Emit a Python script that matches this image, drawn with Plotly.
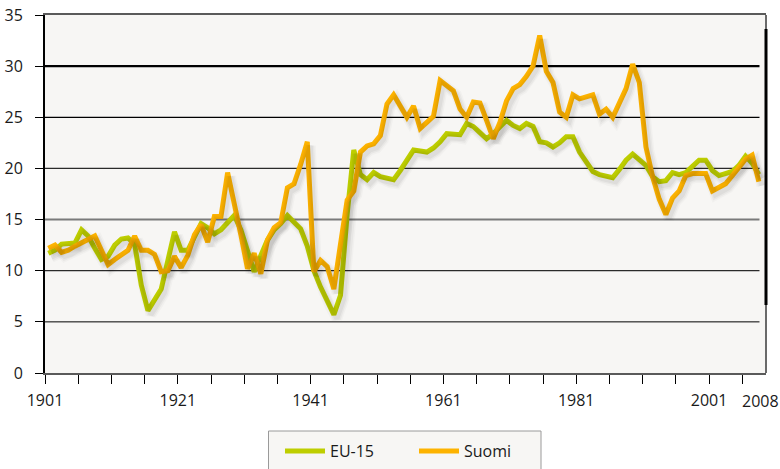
import plotly.graph_objects as go

years = list(range(1901, 2009))

eu15 = [11.7, 12.0, 12.6, 12.7, 12.7, 14.0, 13.4, 12.2, 11.1, 11.4,
        12.5, 13.1, 13.2, 12.6, 8.6, 6.1, 7.1, 8.2, 11.0, 13.8,
        12.0, 12.0, 13.3, 14.6, 14.2, 13.6, 14.0, 14.7, 15.4, 14.0,
        12.0, 9.9, 11.5, 13.0, 14.0, 14.6, 15.4, 14.8, 14.1, 12.4,
        10.0, 8.4, 6.9, 5.7, 7.6, 15.5, 21.8, 19.4, 18.9, 19.6,
        19.2, 19.0, 18.9, 19.8, 20.8, 21.8, 21.7, 21.6, 22.0, 22.6,
        23.4, 23.4, 23.3, 24.4, 24.1, 23.5, 22.9, 23.4, 24.1, 24.7,
        24.2, 23.9, 24.4, 24.1, 22.6, 22.5, 22.1, 22.5, 23.1, 23.1,
        21.6, 20.7, 19.7, 19.4, 19.2, 19.1, 19.9, 20.8, 21.4, 20.9,
        20.3, 19.2, 18.7, 18.8, 19.6, 19.4, 19.6, 20.2, 20.8, 20.8,
        19.8, 19.3, 19.5, 19.7, 20.3, 21.2, 20.5, 19.4]

suomi = [12.2, 12.5, 11.8, 12.0, 12.4, 12.7, 13.0, 13.4, 12.0, 10.6,
         11.1, 11.5, 12.0, 13.4, 12.0, 12.0, 11.6, 9.9, 10.0, 11.4,
         10.3, 11.5, 13.5, 14.5, 12.8, 15.3, 15.3, 19.6, 16.8, 13.5,
         10.2, 11.7, 9.7, 13.0, 14.2, 14.7, 18.1, 18.5, 20.4, 22.6,
         9.9, 11.0, 10.4, 8.2, 12.6, 16.9, 17.8, 21.6, 22.2, 22.4,
         23.2, 26.3, 27.2, 26.1, 25.0, 26.1, 23.9, 24.5, 25.1, 28.6,
         28.1, 27.6, 25.8, 25.0, 26.5, 26.4, 24.7, 22.9, 24.5, 26.6,
         27.8, 28.2, 29.0, 30.0, 33.0, 29.5, 28.4, 25.5, 25.0, 27.2,
         26.8, 27.0, 27.2, 25.3, 25.8, 25.0, 26.4, 27.8, 30.2, 28.4,
         22.1, 19.2, 17.0, 15.5, 17.1, 17.8, 19.3, 19.5, 19.5, 19.5,
         17.8, 18.1, 18.5, 19.3, 20.2, 20.9, 21.3, 18.7]

tick_labels = {1901: "1901", 1921: "1921", 1941: "1941", 1961: "1961",
               1981: "1981", 2001: "2001"}
last_label = "2008"
y_ticks = [0, 5, 10, 15, 20, 25, 30, 35]

GREEN = "#bece00"
ORANGE = "#fdb300"
FONT = "Open Sans"

PX_PER_YEAR = 721 / (2009.08 - 1900.5)
PX_PER_UNIT = 358 / 35
xr = [1900.5, 2009.08]
yr = [0, 35]
dx = 3 / PX_PER_YEAR
dy = 4 / PX_PER_UNIT

fig = go.Figure()

# soft drop shadows drawn on offset overlay axes
for series in (eu15, suomi):
    for w, a in ((11, 0.025), (8, 0.035), (5, 0.045)):
        fig.add_trace(go.Scatter(x=years, y=series, mode="lines",
                                 line=dict(color=f"rgba(0,0,0,{a})", width=w),
                                 xaxis="x2", yaxis="y2", showlegend=False,
                                 hoverinfo="skip"))

fig.add_trace(go.Scatter(x=years, y=eu15, mode="lines", name="EU-15",
                         line=dict(color=GREEN, width=5)))
fig.add_trace(go.Scatter(x=years, y=suomi, mode="lines", name="Suomi",
                         line=dict(color=ORANGE, width=5)))

tickvals = [1900.5 + 5 * k for k in range(22)]
ticktext = [tick_labels.get(int(v + 0.5), "") for v in tickvals]

shapes = []
grid_style = {5: ("#000000", 1), 10: ("#2a2a2a", 1.2), 15: ("#7a7a7a", 2),
              20: ("#2a2a2a", 1.2), 25: ("#000000", 1.2), 30: ("#000000", 2.2)}
for v in y_ticks[1:-1]:
    c, w = grid_style[v]
    shapes.append(dict(type="line", xref="x", yref="y", x0=1900.5, x1=2008.1,
                       y0=v, y1=v, line=dict(color=c, width=w), layer="below"))
# right frame
shapes.append(dict(type="line", xref="paper", yref="paper", x0=1, x1=1, y0=0, y1=1,
                   line=dict(color="#6a6a6a", width=2)))
shapes.append(dict(type="line", xref="paper", yref="paper", x0=1, x1=1,
                   y0=(373 - 305) / 358, y1=(373 - 29) / 358,
                   line=dict(color="#000000", width=3)))
# legend box
shapes.append(dict(type="rect", xref="paper", yref="paper",
                   x0=(268.5 - 45) / 721, x1=(541 - 45) / 721,
                   y0=(373 - 431) / 358, y1=(373 - 490) / 358,
                   line=dict(color="#9a9a9a", width=1), fillcolor="#f7f6f4",
                   layer="below"))

fig.update_layout(
    width=780, height=469,
    autosize=False,
    margin=dict(l=45, r=14, t=15, b=96, autoexpand=False),
    paper_bgcolor="white",
    plot_bgcolor="#f7f6f4",
    font=dict(family=FONT, size=16, color="#1a1a1a"),
    shapes=shapes,
    showlegend=True,
    legend=dict(orientation="h", x=(280 - 45) / 721, xanchor="left",
                y=(373 - 434) / 358, yanchor="top",
                bgcolor="rgba(0,0,0,0)", borderwidth=0,
                font=dict(family=FONT, size=16, color="#1a1a1a"),
                itemwidth=40, entrywidth=79, entrywidthmode="pixels"),
    xaxis=dict(range=xr, showgrid=False, zeroline=False, automargin=False,
               tickmode="array", tickvals=tickvals, ticktext=ticktext,
               ticks="outside", ticklen=9, tickwidth=1, tickcolor="#000",
               showline=True, linecolor="#5a5a5a", linewidth=2, mirror=True,
               ticklabelstandoff=3, tickangle=0),
    yaxis=dict(range=yr, showgrid=False, zeroline=False, automargin=False,
               tickmode="array", tickvals=y_ticks,
               ticks="outside", ticklen=8, tickwidth=1, tickcolor="#000",
               showline=True, linecolor="#000", linewidth=2,
               ticklabelstandoff=9),
    xaxis2=dict(range=[xr[0] - dx, xr[1] - dx], overlaying="x", visible=False),
    yaxis2=dict(range=[yr[0] + dy, yr[1] + dy], overlaying="y", visible=False),
    annotations=[dict(text=last_label, x=2008.2, xref="x", y=(373 - 401) / 358,
                      yref="paper", showarrow=False, xanchor="center",
                      yanchor="middle", font=dict(family=FONT, size=16, color="#1a1a1a"))],
)

fig.write_html("out.html", config={"displayModeBar": False},
               post_script="document.body.style.margin='0px';document.body.style.overflow='hidden';")
